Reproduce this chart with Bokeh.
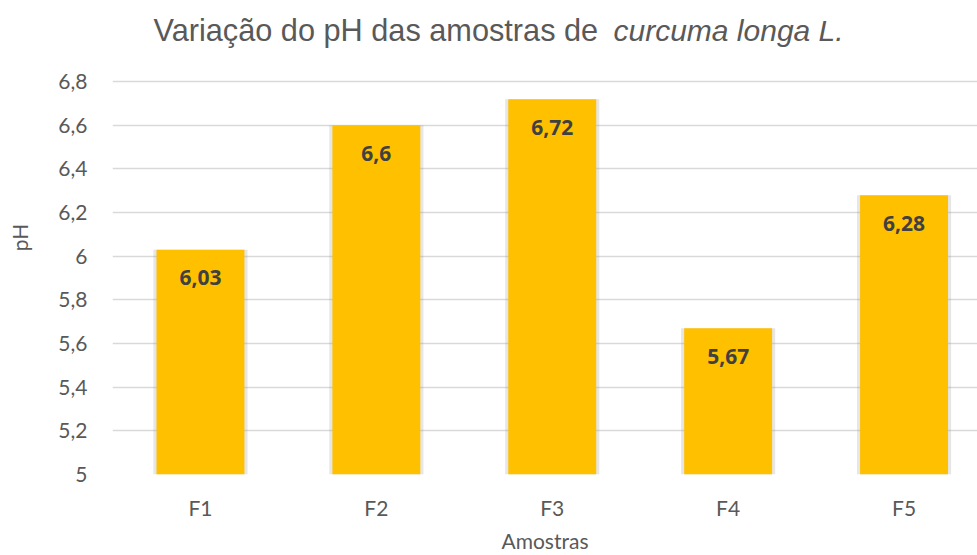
from bokeh.plotting import figure
from bokeh.models import Range1d, FixedTicker, ColumnDataSource, Label
from bokeh.core.properties import value
from bokeh.embed import file_html
from bokeh.resources import INLINE

# ---- data ----
categories = ["F1", "F2", "F3", "F4", "F5"]
ph_values = [6.03, 6.6, 6.72, 5.67, 6.28]
y_ticks = [5.0, 5.2, 5.4, 5.6, 5.8, 6.0, 6.2, 6.4, 6.6, 6.8]
title_main = "Variação do pH das amostras de"
title_italic = "curcuma longa L."
x_title = "Amostras"
y_title = "pH"


def fmt(v):
    return f"{v:g}".replace(".", ",")


# layout geometry (pixels)
W, H = 977, 555
LEFT = 112
FRAME_BOTTOM = 473          # expected frame bottom (canvas px)
TOP_GRID = 81               # y pixel of the highest tick
CAT_PX = 175.9              # pixels per category

Y0, YTOP = y_ticks[0], y_ticks[-1]
px_y = (YTOP - Y0) / (FRAME_BOTTOM - TOP_GRID)
Y1 = Y0 + FRAME_BOTTOM * px_y
X0 = -0.5
X1 = X0 + (W - LEFT) / CAT_PX

xs = list(range(len(categories)))
src = ColumnDataSource(dict(
    x=xs,
    top=ph_values,
    label=[fmt(v) for v in ph_values],
))

p = figure(width=W, height=H,
           output_backend="svg", toolbar_location=None,
           x_range=Range1d(X0, X1), y_range=Range1d(Y0, Y1))
p.min_border_left = LEFT
p.min_border_right = 0
p.min_border_top = 0
p.min_border_bottom = 0
p.outline_line_color = None
p.background_fill_color = "white"
p.border_fill_color = "white"

# shadow then bars
p.vbar(x="x", top="top", bottom=Y0, width=0.535, source=src,
       fill_color="#9a9a9a", fill_alpha=0.25, line_color=None)
p.vbar(x="x", top="top", bottom=Y0, width=0.5, source=src,
       fill_color="#FFC000", line_color=None)

p.text(x="x", y="top", text="label", source=src,
       y_offset=28, text_align="center", text_baseline="middle",
       text_font=value("Open Sans"), text_font_size="21px", text_font_style="bold",
       text_color="#404040")

# axes
p.xaxis.ticker = FixedTicker(ticks=xs)
p.xaxis.major_label_overrides = {i: c for i, c in zip(xs, categories)}
p.yaxis.ticker = FixedTicker(ticks=y_ticks)
p.yaxis.major_label_overrides = {t: fmt(t) for t in y_ticks}
for ax in (p.xaxis[0], p.yaxis[0]):
    ax.axis_line_color = None
    ax.major_tick_line_color = None
    ax.minor_tick_line_color = None
    ax.major_tick_out = 0
    ax.major_tick_in = 0
    ax.major_label_text_font = "Lato"
    ax.major_label_text_font_size = "21px"
    ax.major_label_text_color = "#595959"
    ax.axis_label_text_font = "Lato"
    ax.axis_label_text_font_size = "21px"
    ax.axis_label_text_font_style = "normal"
    ax.axis_label_text_color = "#595959"
p.xaxis.axis_label = x_title
p.yaxis.axis_label = y_title
p.yaxis.major_label_standoff = 25
p.xaxis.major_label_standoff = 20
p.xaxis.axis_label_standoff = 5
p.yaxis.axis_label_standoff = 23

p.xgrid.grid_line_color = None
p.ygrid.grid_line_color = "#d9d9d9"
p.ygrid.grid_line_width = 1.5

# title: normal part + italic part, inside the (extended) frame above the top tick
ty = YTOP + (TOP_GRID - 30) * px_y
p.add_layout(Label(x=X0 + (153 - LEFT) / CAT_PX, y=ty,
                   text=title_main, text_font="Liberation Sans", text_font_size="30.7px",
                   text_color="#595959", text_baseline="alphabetic", text_align="left"))
p.add_layout(Label(x=X0 + (613 - LEFT) / CAT_PX, y=ty,
                   text=title_italic, text_font="Liberation Sans", text_font_size="30px",
                   text_font_style="italic", text_color="#595959",
                   text_baseline="alphabetic", text_align="left"))

open("out.html", "w").write(file_html(p, INLINE))
